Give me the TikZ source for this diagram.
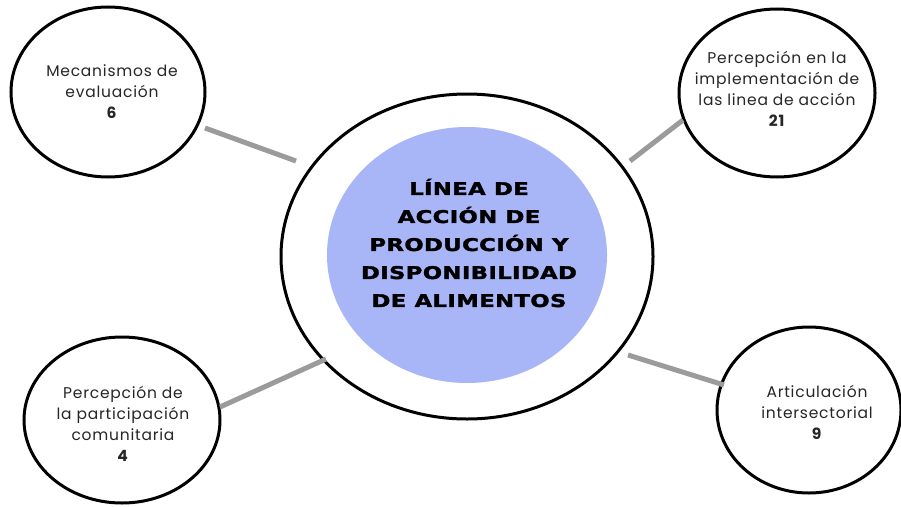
\documentclass[tikz,border=0pt]{standalone}
\usepackage{fontspec}
\setmainfont{Poppins}[LetterSpace=5]
\newfontfamily\heavyfont{DejaVu Sans}[FakeStretch=1.3,LetterSpace=2,FakeBold=2]
\usetikzlibrary{shapes.geometric}
\definecolor{bluefill}{RGB}{168,181,247}
\definecolor{linkgray}{RGB}{155,155,155}
\tikzset{
  topic/.style={ellipse, draw=black, line width=3pt, fill=white, inner sep=0pt},
  topictext/.style={align=center, font=\fontsize{15.5}{21}\selectfont, text=black!85},
  link/.style={draw=linkgray, line width=5pt},
  centertext/.style={align=center, font=\heavyfont\bfseries\fontsize{17.5}{28}\selectfont}
}
\begin{document}
\begin{tikzpicture}[x=1pt,y=-1pt]
\useasboundingbox (0,0) rectangle (901,506);
% central
\node[ellipse, draw=black, line width=3pt, minimum width=372pt, minimum height=325pt, inner sep=0pt] (outer) at (467,256.5) {};
\node[ellipse, fill=bluefill, minimum width=280pt, minimum height=256pt, inner sep=0pt] (inner) at (467,255) {};
\node[centertext] (ctext) at (469,243) {LÍNEA DE\\ACCIÓN DE\\PRODUCCIÓN Y\\DISPONIBILIDAD\\DE ALIMENTOS};
% satellites
\node[topic, minimum width=194pt, minimum height=170pt] (tl) at (108,92) {};
\node[topic, minimum width=196pt, minimum height=168pt] (tr) at (777,93) {};
\node[topic, minimum width=196pt, minimum height=166pt] (bl) at (122,420) {};
\node[topic, minimum width=184pt, minimum height=166pt] (br) at (809,410) {};
\node[topictext] (tlt) at (112,92) {Mecanismos de\\evaluación\\\textbf{6}};
\node[topictext] (trt) at (777,88.5) {Percepción en la\\implementación de\\las linea de acción\\\textbf{21}};
\node[topictext] (blt) at (123,424) {Percepción de\\la participación\\comunitaria\\\textbf{4}};
\node[topictext] (brt) at (817,412) {Articulación\\intersectorial\\\textbf{9}};
% connector endpoints
\coordinate (tlA) at (205,128);
\coordinate (tlB) at (296,161);
\coordinate (trA) at (630,161);
\coordinate (trB) at (683,120);
\coordinate (blA) at (220,407);
\coordinate (blB) at (326,359);
\coordinate (brA) at (628,355);
\coordinate (brB) at (724,385);
\draw[link] (tlA) -- (tlB);
\draw[link] (trA) -- (trB);
\draw[link] (blA) -- (blB);
\draw[link] (brA) -- (brB);
\end{tikzpicture}
\end{document}
